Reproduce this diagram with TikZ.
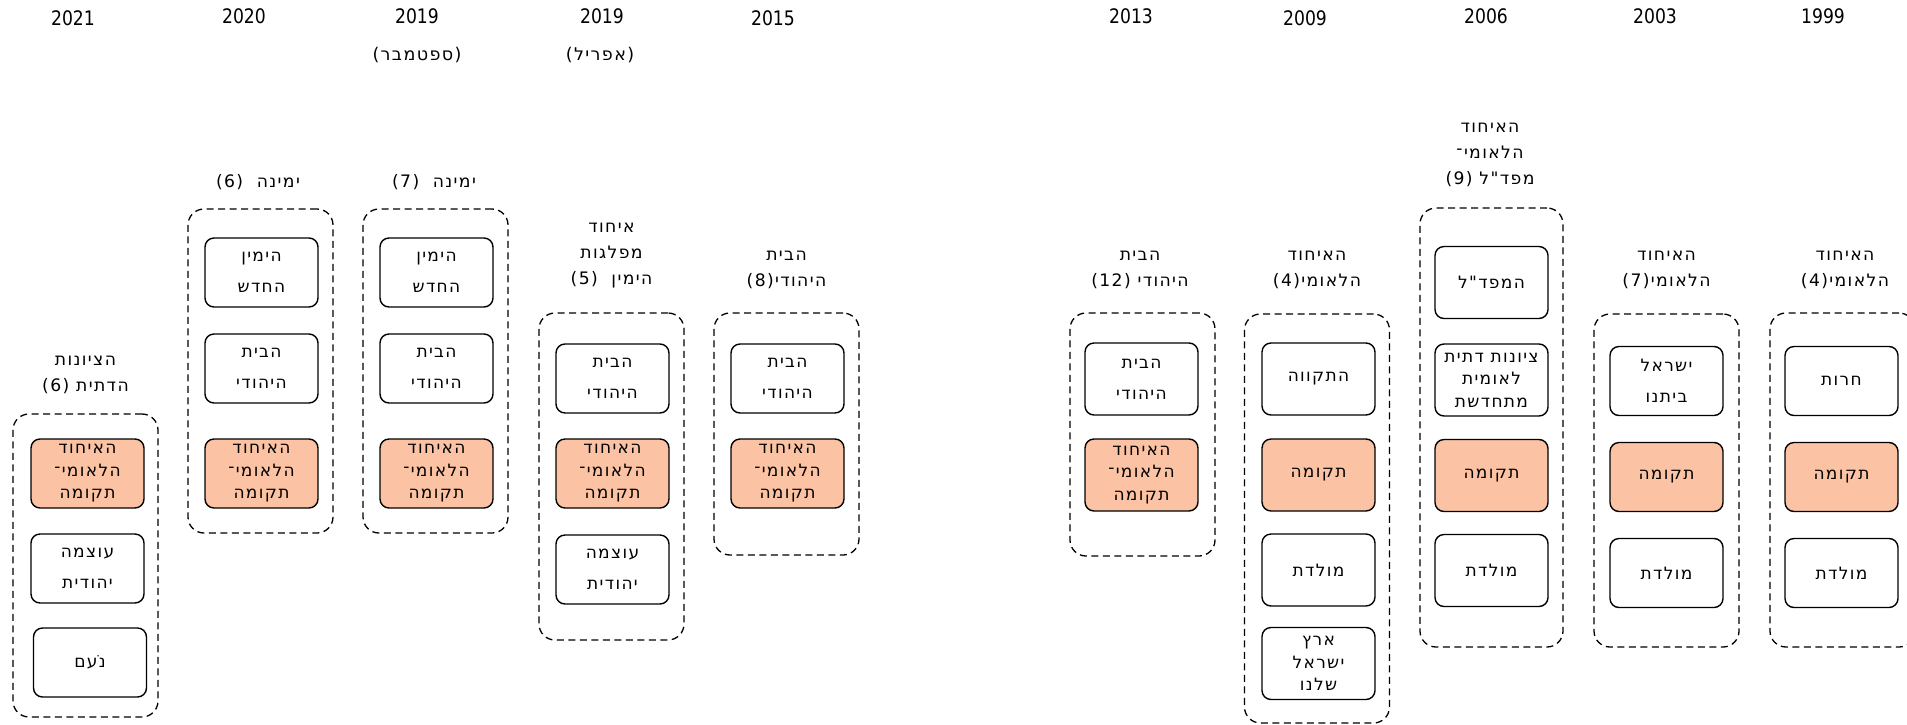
\documentclass[tikz,border=0pt]{standalone}
\usepackage{fontspec}
\newfontfamily\heb[Script=Hebrew,LetterSpace=8]{DejaVu Sans}
\newfontfamily\yr[FakeStretch=0.86]{DejaVu Sans}
\TeXXeTstate=1
\newcommand{\hR}[1]{\beginR #1\endR}
\definecolor{peach}{RGB}{251,195,163}
\begin{document}
\begin{tikzpicture}[x=1pt,y=-1pt,
  party/.style={draw=black, line width=1.4pt, rounded corners=9pt, minimum width=113pt, minimum height=69pt, inner sep=0pt, align=center, font=\heb\fontsize{17}{31}\selectfont},
  tallbox/.style={minimum height=72pt},
  three/.style={font=\heb\fontsize{17}{22.5}\selectfont},
  hot/.style={fill=peach},
  group/.style={draw=black, line width=1.3pt, dash pattern=on 7pt off 4.5pt, rounded corners=16pt, minimum width=145pt, inner sep=0pt},
  head/.style={align=center, inner sep=0pt, font=\heb\fontsize{17.2}{26}\selectfont},
  year/.style={inner sep=0pt, font=\yr\fontsize{20}{22}\selectfont},
  month/.style={inner sep=0pt, font=\heb\fontsize{17.5}{20}\selectfont},
]
\fill[white] (0,0) rectangle (1907,724);
\useasboundingbox (0,0) rectangle (1907,724);
\clip (0,0) rectangle (1907,724);

% years
\node[year] (y2021) at (73,18) {2021};
\node[year] (y2020) at (244,16) {2020};
\node[year] (y2019s) at (417,16) {2019};
\node[month] (m2019s) at (417,55) {\hR{(ספטמבר)}};
\node[year] (y2019a) at (602,16) {2019};
\node[month] (m2019a) at (600,55) {\hR{(אפריל)}};
\node[year] (y2015) at (773,18) {2015};
\node[year] (y2013) at (1131,16) {2013};
\node[year] (y2009) at (1305,18) {2009};
\node[year] (y2006) at (1486,16) {2006};
\node[year] (y2003) at (1655,16) {2003};
\node[year] (y1999) at (1823,16) {1999};

% 2021
\node[group, minimum height=303pt] (g2021) at (85.5,565.5) {};
\node[head] (h2021) at (85.5,375) {\hR{הציונות}\\\hR{הדתית (6)}};
\node[party,hot,three] (p21a) at (87.5,473.5) {\hR{האיחוד}\\\hR{הלאומי־}\\\hR{תקומה}};
\node[party] (p21b) at (87.5,568.5) {\hR{עוצמה}\\\hR{יהודית}};
\node[party] (p21c) at (90,662.5) {\hR{נֹעם}};

% 2020
\node[group, minimum height=324pt] (g2020) at (260.5,371) {};
\node[head] (h2020) at (258,182) {\hR{ימינה \ (6)}};
\node[party] (p20a) at (261.5,272.5) {\hR{הימין}\\\hR{החדש}};
\node[party] (p20b) at (261.5,368.5) {\hR{הבית}\\\hR{היהודי}};
\node[party,hot,three] (p20c) at (261.5,473.5) {\hR{האיחוד}\\\hR{הלאומי־}\\\hR{תקומה}};

% 2019 September
\node[group, minimum height=324pt] (g2019s) at (435.5,371) {};
\node[head] (h2019s) at (434,182) {\hR{ימינה \ (7)}};
\node[party] (p19sa) at (436.5,272.5) {\hR{הימין}\\\hR{החדש}};
\node[party] (p19sb) at (436.5,368.5) {\hR{הבית}\\\hR{היהודי}};
\node[party,hot,three] (p19sc) at (436.5,473.5) {\hR{האיחוד}\\\hR{הלאומי־}\\\hR{תקומה}};

% 2019 April
\node[group, minimum height=327pt] (g2019a) at (611.5,476.5) {};
\node[head] (h2019a) at (611.5,256) {\hR{איחוד}\\\hR{מפלגות}\\\hR{הימין \ (5)}};
\node[party] (p19aa) at (612.5,378.5) {\hR{הבית}\\\hR{היהודי}};
\node[party,hot,three] (p19ab) at (612.5,473.5) {\hR{האיחוד}\\\hR{הלאומי־}\\\hR{תקומה}};
\node[party] (p19ac) at (612.5,569.5) {\hR{עוצמה}\\\hR{יהודית}};

% 2015
\node[group, minimum height=242pt] (g2015) at (786.5,434) {};
\node[head] (h2015) at (786.5,270) {\hR{הבית}\\\hR{היהודי(8)}};
\node[party] (p15a) at (787.5,378.5) {\hR{הבית}\\\hR{היהודי}};
\node[party,hot,three] (p15b) at (787.5,473.5) {\hR{האיחוד}\\\hR{הלאומי־}\\\hR{תקומה}};

% 2013
\node[group, minimum height=243pt] (g2013) at (1142.5,434.5) {};
\node[head] (h2013) at (1140,270) {\hR{הבית}\\\hR{היהודי (12)}};
\node[party,tallbox] (p13a) at (1141.5,379) {\hR{הבית}\\\hR{היהודי}};
\node[party,tallbox,hot,three] (p13b) at (1141.5,475) {\hR{האיחוד}\\\hR{הלאומי־}\\\hR{תקומה}};

% 2009
\node[group, minimum height=409pt] (g2009) at (1317,518.5) {};
\node[head] (h2009) at (1317,270) {\hR{האיחוד}\\\hR{הלאומי(4)}};
\node[party,tallbox] (p09a) at (1318.5,379) {\hR{התקווה}};
\node[party,tallbox,hot] (p09b) at (1318.5,475) {\hR{תקומה}};
\node[party,tallbox] (p09c) at (1318.5,570) {\hR{מולדת}};
\node[party,tallbox,three] (p09d) at (1318.5,663.5) {\hR{ארץ}\\\hR{ישראל}\\\hR{שלנו}};

% 2006
\node[group, minimum width=143pt, minimum height=439pt] (g2006) at (1491.5,427.5) {};
\node[head] (h2006) at (1490,155) {\hR{האיחוד}\\\hR{הלאומי־}\\\hR{מפד"ל (9)}};
\node[party,tallbox] (p06a) at (1491.5,282.5) {\hR{המפד"ל}};
\node[party,tallbox,three] (p06b) at (1491.5,380) {\hR{ציונות דתית}\\\hR{לאומית}\\\hR{מתחדשת}};
\node[party,tallbox,hot] (p06c) at (1491.5,475.5) {\hR{תקומה}};
\node[party,tallbox] (p06d) at (1491.5,570.5) {\hR{מולדת}};

% 2003
\node[group, minimum height=333pt] (g2003) at (1666.5,480.5) {};
\node[head] (h2003) at (1666.5,270) {\hR{האיחוד}\\\hR{הלאומי(7)}};
\node[party] (p03a) at (1666.5,381) {\hR{ישראל}\\\hR{ביתנו}};
\node[party,hot] (p03b) at (1666.5,477) {\hR{תקומה}};
\node[party] (p03c) at (1666.5,573) {\hR{מולדת}};

% 1999
\node[group, minimum height=334pt] (g1999) at (1842.5,480) {};
\node[head] (h1999) at (1845,270) {\hR{האיחוד}\\\hR{הלאומי(4)}};
\node[party] (p99a) at (1841.5,381) {\hR{חרות}};
\node[party,hot] (p99b) at (1841.5,477) {\hR{תקומה}};
\node[party] (p99c) at (1841.5,573) {\hR{מולדת}};
\end{tikzpicture}
\end{document}
